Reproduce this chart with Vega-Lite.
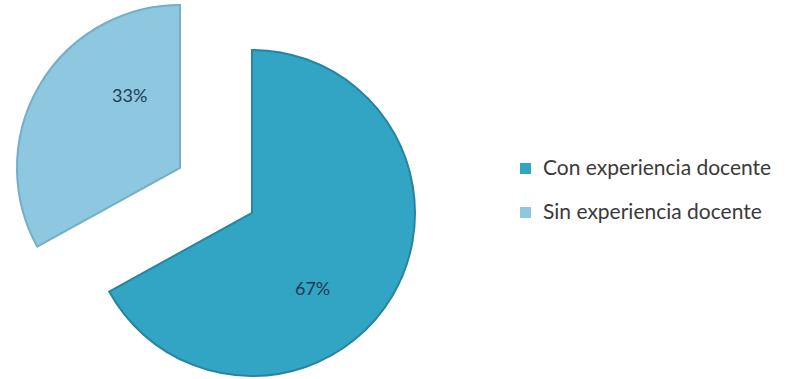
{
  "$schema": "https://vega.github.io/schema/vega-lite/v6.json",
  "width": 798,
  "height": 379,
  "autosize": "none",
  "padding": 0,
  "background": "white",
  "config": {"view": {"stroke": null}},
  "data": {
    "values": [
      {"categoria": "Con experiencia docente", "porcentaje": 67},
      {"categoria": "Sin experiencia docente", "porcentaje": 33}
    ]
  },
  "transform": [
    {"stack": "porcentaje", "groupby": [], "as": ["p0", "p1"], "sort": [{"field": "categoria", "order": "ascending"}]},
    {"calculate": "(datum.p0 + datum.p1) / 2", "as": "pm"},
    {"calculate": "datum.porcentaje + '%'", "as": "etiqueta"}
  ],
  "layer": [
    {
      "transform": [{"filter": "datum.categoria === 'Con experiencia docente'"}],
      "mark": {"type": "arc", "x": 252, "y": 213, "outerRadius": 163, "stroke": "#2784A3", "strokeWidth": 2},
      "encoding": {
        "theta": {"field": "p0", "type": "quantitative", "scale": {"domain": [0, 100]}},
        "theta2": {"field": "p1"},
        "color": {
          "field": "categoria",
          "type": "nominal",
          "scale": {"domain": ["Con experiencia docente", "Sin experiencia docente"], "range": ["#32A4C4", "#8DC7E0"]},
          "legend": {
            "title": null,
            "orient": "none",
            "legendX": 515,
            "legendY": 158,
            "symbolType": "square",
            "symbolSize": 121,
            "symbolStrokeWidth": 0,
            "labelFont": "Lato",
            "labelFontSize": 21,
            "labelColor": "#3A3A3A",
            "labelOffset": 7,
            "labelLimit": 0,
            "rowPadding": 22
          }
        }
      }
    },
    {
      "transform": [{"filter": "datum.categoria === 'Sin experiencia docente'"}],
      "mark": {"type": "arc", "x": 180, "y": 168, "outerRadius": 163, "stroke": "#74AEC7", "strokeWidth": 2},
      "encoding": {
        "theta": {"field": "p0", "type": "quantitative", "scale": {"domain": [0, 100]}},
        "theta2": {"field": "p1"},
        "color": {"field": "categoria", "type": "nominal"}
      }
    },
    {
      "transform": [{"filter": "datum.categoria === 'Con experiencia docente'"}],
      "mark": {"type": "text", "x": 252, "y": 213, "radius": 98, "thetaOffset": 0.37, "font": "Lato", "fontSize": 18, "color": "#1E3A55"},
      "encoding": {
        "theta": {"field": "pm", "type": "quantitative", "scale": {"domain": [0, 100]}},
        "text": {"field": "etiqueta"}
      }
    },
    {
      "transform": [{"filter": "datum.categoria === 'Sin experiencia docente'"}],
      "mark": {"type": "text", "x": 180, "y": 168, "radius": 87, "thetaOffset": 0.42, "font": "Lato", "fontSize": 18, "color": "#1E3A55"},
      "encoding": {
        "theta": {"field": "pm", "type": "quantitative", "scale": {"domain": [0, 100]}},
        "text": {"field": "etiqueta"}
      }
    }
  ]
}
